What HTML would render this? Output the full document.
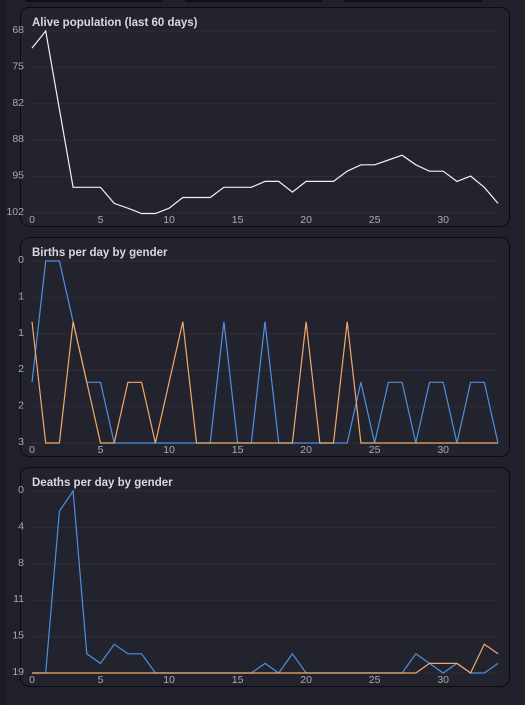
<!DOCTYPE html>
<html><head><meta charset="utf-8"><style>
html,body{margin:0;padding:0;background:#1f2029;width:525px;height:705px;overflow:hidden}
svg{display:block}
text{font-family:"Liberation Sans",sans-serif}
</style></head><body>
<svg id="root" width="525" height="705">
<rect x="0" y="0" width="525" height="705" fill="#1f2029"/>
<rect x="0" y="0" width="6" height="705" fill="#1b1c23"/>
<rect x="26" y="0" width="137" height="2" fill="#0e0f13"/>
<rect x="185" y="0" width="137" height="2" fill="#0e0f13"/>
<rect x="344" y="0" width="138" height="2" fill="#0e0f13"/>
</svg>
<script>
const xTicks=[0,5,10,15,20,25,30];
const popTicks=['68','75','82','88','95','102'];
const popValues=[71.2,68,82.6,97.2,97.2,97.2,100.2,101.1,102.1,102.1,101.1,99.1,99.1,99.1,97.2,97.2,97.2,96.1,96.1,98.1,96.1,96.1,96.1,94.2,93.0,93.0,92.1,91.2,93.0,94.2,94.2,96.1,95.1,97.2,100.2];
const birthTicks=['0','1','1','2','2','3'];
const birthsMale=[2,0,0,1,2,2,3,3,3,3,3,3,3,3,1,3,3,1,3,3,3,3,3,3,2,3,2,2,3,2,2,3,2,2,3];
const birthsFemale=[1,3,3,1,2,3,3,2,2,3,2,1,3,3,3,3,3,3,3,3,1,3,3,1,3,3,3,3,3,3,3,3,3,3,3];
const deathTicks=['0','4','8','11','15','19'];
const deathsMale=[19,19,2.1,0,17,18,16,17,17,19,19,19,19,19,19,19,19,18,19,17,19,19,19,19,19,19,19,19,17,18,19,18,19,19,18];
const deathsFemale=[19,19,19,19,19,19,19,19,19,19,19,19,19,19,19,19,19,19,19,19,19,19,19,19,19,19,19,19,19,18,18,18,19,16,17];

const NS='http://www.w3.org/2000/svg';
const root=document.getElementById('root');
function mk(tag,attrs,parent){const e=document.createElementNS(NS,tag);for(const k in attrs)e.setAttribute(k,attrs[k]);parent.appendChild(e);return e;}

function chart(top,title,ticks,yMin,yMax,series,name){
  const g=mk('g',{},root);
  
  
  const panel=mk('rect',{x:20.5,y:top+0.5,width:489,height:219,rx:9,fill:'#23232d',stroke:'#0c0c10','stroke-width':1},g);
  
  
  const x0=32,x1=498,yT=top+24,yB=top+206;
  const sx=v=>x0+(v-0)/(34-0)*(x1-x0);
  const sy=v=>yT+(v-yMin)/(yMax-yMin)*(yB-yT);
  ticks.forEach((t,i)=>{
    const y=yT+i*(yB-yT)/(ticks.length-1);
    const gl=mk('line',{x1:x0,x2:x1,y1:y,y2:y,stroke:'#2d2e39','stroke-width':1},g);
    
    
    const tx=mk('text',{x:24,y:y+2,'text-anchor':'end','font-size':10.5,fill:'#a9aab4'},g);
    tx.textContent=t;
    
    
  });
  xTicks.forEach(t=>{
    const tx=mk('text',{x:sx(t),y:yB+10,'text-anchor':'middle','font-size':10.5,fill:'#a9aab4'},g);
    tx.textContent=t;
    
    
  });
  const ti=mk('text',{x:32,y:top+19,'font-size':11.5,'font-weight':'bold',fill:'#d8d8de'},g);
  ti.textContent=title;
  
  
  series.forEach(s=>{
    const pts=s.vals.map((v,i)=>sx(i).toFixed(1)+','+sy(v).toFixed(1)).join(' ');
    const pl=mk('polyline',{points:pts,fill:'none',stroke:s.color,'stroke-width':1.2,'stroke-linejoin':'miter'},g);
    
    
  });
}
chart(7,'Alive population (last 60 days)',popTicks,68,102,[{vals:popValues,color:'#f2f2f2',name:'population-line'}],'population-chart');
chart(237,'Births per day by gender',birthTicks,0,3,[{vals:birthsMale,color:'#4f8fe0',name:'births-male-line'},{vals:birthsFemale,color:'#f0aa6a',name:'births-female-line'}],'births-chart');
chart(467,'Deaths per day by gender',deathTicks,0,19,[{vals:deathsMale,color:'#4f8fe0',name:'deaths-male-line'},{vals:deathsFemale,color:'#f0aa6a',name:'deaths-female-line'}],'deaths-chart');
</script>
</body></html>
